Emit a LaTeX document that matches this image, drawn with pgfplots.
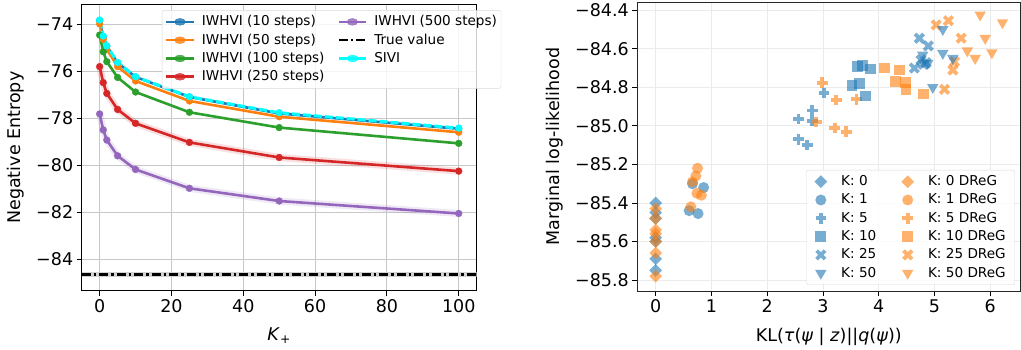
\documentclass[border=0pt]{standalone}
\usepackage{pgfplots}
\pgfplotsset{compat=1.18}
\usepackage{fontspec}
\setmainfont{DejaVu Sans}
\definecolor{tblue}{HTML}{1F77B4}
\definecolor{torange}{HTML}{FF7F0E}
\definecolor{tgreen}{HTML}{2CA02C}
\definecolor{tred}{HTML}{D62728}
\definecolor{tpurple}{HTML}{9467BD}
\definecolor{tcyan}{HTML}{00FFFF}
\definecolor{gridl}{HTML}{C8C8C8}
\definecolor{gridr}{HTML}{EBEBEB}

\pgfplotstableread{
x  b10    o50    g100   r250   p500   sivi
0  -73.85 -74.00 -74.47 -75.81 -77.82 -73.83
1  -74.55 -74.65 -75.18 -76.49 -78.50 -74.51
2  -74.95 -75.08 -75.60 -76.95 -78.93 -74.93
5  -75.65 -75.81 -76.27 -77.63 -79.60 -75.63
10 -76.25 -76.42 -76.89 -78.22 -80.18 -76.24
25 -77.10 -77.27 -77.75 -79.03 -80.98 -77.09
50 -77.80 -77.94 -78.40 -79.67 -81.52 -77.77
100 -78.45 -78.60 -79.07 -80.25 -82.05 -78.42
}\entropy

\tikzset{
  lline/.style={line width=2.6pt, mark=*, mark size=3.4pt, mark options={solid, line width=0.4pt}},
  bmk/.style={only marks, mark options={fill=tblue, draw opacity=0, fill opacity=0.6}},
  omk/.style={only marks, mark options={fill=torange, draw opacity=0, fill opacity=0.6}},
  bln/.style={only marks, mark options={draw=tblue, draw opacity=0.6, line width=3.8pt}},
  oln/.style={only marks, mark options={draw=torange, draw opacity=0.6, line width=3.8pt}},
  dia/.style={mark=square*, mark size=4.5pt, every mark/.append style={rotate=45}},
  tri/.style={mark=triangle*, mark size=6.6pt, every mark/.append style={rotate=180}},
}

\begin{document}
\begin{tikzpicture}[x=1pt,y=1pt]
\path[use as bounding box] (0,0) rectangle (1021,349);

% ---------------- Left panel ----------------
\begin{axis}[
  at={(81.7pt,58.3pt)}, anchor=south west, scale only axis,
  width=395pt, height=286pt,
  xmin=-5, xmax=105, ymin=-85.33, ymax=-73.18,
  xtick={0,20,40,60,80,100}, xticklabels={0,20,40,60,80,100},
  ytick={-84,-82,-80,-78,-76,-74},
  yticklabels={−84,−82,−80,−78,−76,−74},
  grid=major, major grid style={gridl, line width=0.9pt},
  tick align=outside, tick pos=left, major tick length=5pt,
  every tick/.style={black, line width=0.9pt},
  axis line style={black, line width=0.9pt},
  ticklabel style={font=\fontsize{17.5}{20}\selectfont},
  label style={font=\fontsize{17.5}{20}\selectfont},
  xlabel={\textit{K}\textsubscript{+}},
  ylabel={Negative Entropy},
  xlabel style={at={(axis description cs:0.5,-0.158)}, anchor=center},
  ylabel style={at={(axis description cs:-0.168,0.5)}, anchor=center},
  legend columns=2,
  legend cell align=left,
  legend style={at={(0.203,0.981)}, anchor=north west,
    font=\fontsize{13.6}{16}\selectfont, draw=gray!30, rounded corners=2pt,
    fill=white, fill opacity=0.8, text opacity=1, inner xsep=3pt, inner ysep=2.4pt,
    row sep=0pt,
    nodes={inner sep=1pt, text height=12pt, text depth=4.3pt},
    /tikz/every odd column/.append style={column sep=6pt},
    /tikz/every even column/.append style={column sep=12pt}},
  legend image post style={xscale=1.59},
  clip=true,
]
% true value band and line
\addplot[gray!35, line width=5pt, forget plot] coordinates {(-5,-84.65) (105,-84.65)};
% bands for red and purple
\addplot[tred, opacity=0.15, line width=7pt, forget plot] table[x=x,y=r250]{\entropy};
\addplot[tpurple, opacity=0.15, line width=7pt, forget plot] table[x=x,y=p500]{\entropy};

\addplot[tblue, lline, forget plot] table[x=x,y=b10]{\entropy};
\addplot[torange, lline, forget plot] table[x=x,y=o50]{\entropy};
\addplot[tgreen, lline, forget plot] table[x=x,y=g100]{\entropy};
\addplot[tred, lline, forget plot] table[x=x,y=r250]{\entropy};
\addplot[tpurple, lline, forget plot] table[x=x,y=p500]{\entropy};
\addplot[black, line width=2.6pt, dash pattern=on 9pt off 3pt on 2.5pt off 3pt, forget plot] coordinates {(-5,-84.65) (105,-84.65)};
\addplot[tcyan, line width=3pt, dash pattern=on 8pt off 3pt, forget plot] table[x=x,y=sivi]{\entropy};
\addplot[tcyan, only marks, mark=*, mark size=3.4pt, mark options={line width=0.4pt}, forget plot] table[x=x,y=sivi]{\entropy};

\addlegendimage{tblue, lline}
\addlegendentry{IWHVI (10 steps)}
\addlegendimage{tpurple, lline}
\addlegendentry{IWHVI (500 steps)}
\addlegendimage{torange, lline}
\addlegendentry{IWHVI (50 steps)}
\addlegendimage{black, line width=2.6pt, dash pattern=on 9pt off 3pt on 2.5pt off 3pt}
\addlegendentry{True value}
\addlegendimage{tgreen, lline}
\addlegendentry{IWHVI (100 steps)}
\addlegendimage{tcyan, lline}
\addlegendentry{SIVI}
\addlegendimage{tred, lline}
\addlegendentry{IWHVI (250 steps)}
\end{axis}

% ---------------- Right panel ----------------
\begin{axis}[
  at={(637.3pt,58pt)}, anchor=south west, scale only axis,
  width=383pt, height=289pt,
  xmin=-0.33, xmax=6.54, ymin=-85.857, ymax=-84.357,
  xtick={0,1,2,3,4,5,6}, xticklabels={0,1,2,3,4,5,6},
  ytick={-85.8,-85.6,-85.4,-85.2,-85.0,-84.8,-84.6,-84.4},
  yticklabels={−85.8,−85.6,−85.4,−85.2,−85.0,−84.8,−84.6,−84.4},
  grid=major, major grid style={gridr, line width=0.9pt},
  tick align=outside, tick pos=left, major tick length=5pt,
  every tick/.style={black, line width=0.9pt},
  axis line style={black!85, line width=0.9pt},
  ticklabel style={font=\fontsize{17.5}{20}\selectfont},
  label style={font=\fontsize{17.5}{20}\selectfont},
  xlabel={KL(\textit{τ}(\textit{ψ} | \textit{z})||\textit{q}(\textit{ψ}))},
  ylabel={Marginal log-likelihood},
  xlabel style={at={(axis description cs:0.5,-0.159)}, anchor=center},
  ylabel style={at={(axis description cs:-0.217,0.5)}, anchor=center},
  legend columns=2,
  legend cell align=left,
  legend style={at={(0.986,0.021)}, anchor=south east,
    font=\fontsize{13.6}{16}\selectfont, draw=gray!30, rounded corners=2pt,
    fill=white, fill opacity=0.8, text opacity=1, inner xsep=8pt, inner ysep=2.4pt,
    row sep=0pt,
    nodes={inner sep=1pt, text height=12pt, text depth=4.3pt},
    /tikz/every odd column/.append style={column sep=13pt},
    /tikz/every even column/.append style={column sep=24pt}},
  clip=false,
]
% K: 0
\addplot[bmk, dia, forget plot] coordinates {
 (0,-85.40) (0,-85.45) (0,-85.48) (0,-85.58) (0,-85.60) (0,-85.69) (0,-85.75)};
\addplot[omk, dia, forget plot] coordinates {
 (0,-85.43) (0,-85.48) (0,-85.54) (0,-85.56) (0,-85.60) (0,-85.66) (0,-85.78)};
% K: 1
\addplot[bmk, mark=*, mark size=5.5pt, forget plot] coordinates {
 (0.60,-85.44) (0.76,-85.455) (0.86,-85.32) (0.66,-85.30)};
\addplot[omk, mark=*, mark size=5.5pt, forget plot] coordinates {
 (0.75,-85.22) (0.72,-85.26) (0.66,-85.29) (0.74,-85.35) (0.82,-85.36) (0.63,-85.42)};
% K: 5
\addplot[bln, mark=+, mark size=5.3pt, forget plot] coordinates {
 (2.56,-84.964) (2.81,-84.92) (2.81,-84.975) (3.02,-84.83) (2.56,-85.07) (2.72,-85.10)};
\addplot[oln, mark=+, mark size=5.3pt, forget plot] coordinates {
 (2.99,-84.776) (3.24,-84.866) (3.60,-84.862) (2.88,-84.98) (3.21,-85.01) (3.42,-85.03)};
% K: 10
\addplot[bmk, mark=square*, mark size=5.4pt, forget plot] coordinates {
 (3.62,-84.69) (3.71,-84.687) (3.86,-84.705) (3.52,-84.79) (3.65,-84.78) (3.76,-84.845)};
\addplot[omk, mark=square*, mark size=5.4pt, forget plot] coordinates {
 (4.10,-84.70) (4.38,-84.71) (4.30,-84.77) (4.48,-84.775) (4.49,-84.81) (4.81,-84.835)};
% K: 25
\addplot[bln, mark=x, mark size=6pt, forget plot] coordinates {
 (4.73,-84.545) (4.89,-84.585) (4.76,-84.658) (4.64,-84.70) (4.85,-84.672) (4.80,-84.68)};
\addplot[oln, mark=x, mark size=6pt, forget plot] coordinates {
 (5.03,-84.476) (5.25,-84.454) (5.48,-84.545) (5.36,-84.667) (5.33,-84.71) (5.18,-84.81)};
% K: 50
\addplot[bmk, tri, forget plot] coordinates {
 (4.79,-84.632) (4.88,-84.675) (5.15,-84.499) (5.15,-84.623) (5.33,-84.649) (4.97,-84.80)};
\addplot[omk, tri, forget plot] coordinates {
 (5.82,-84.424) (6.22,-84.464) (5.91,-84.545) (5.59,-84.61) (5.73,-84.649) (6.03,-84.62)};

\addlegendimage{bmk, dia}
\addlegendentry{K: 0}
\addlegendimage{omk, dia}
\addlegendentry{K: 0 DReG}
\addlegendimage{bmk, mark=*, mark size=5.5pt}
\addlegendentry{K: 1}
\addlegendimage{omk, mark=*, mark size=5.5pt}
\addlegendentry{K: 1 DReG}
\addlegendimage{bln, mark=+, mark size=5.3pt}
\addlegendentry{K: 5}
\addlegendimage{oln, mark=+, mark size=5.3pt}
\addlegendentry{K: 5 DReG}
\addlegendimage{bmk, mark=square*, mark size=5.4pt}
\addlegendentry{K: 10}
\addlegendimage{omk, mark=square*, mark size=5.4pt}
\addlegendentry{K: 10 DReG}
\addlegendimage{bln, mark=x, mark size=6pt}
\addlegendentry{K: 25}
\addlegendimage{oln, mark=x, mark size=6pt}
\addlegendentry{K: 25 DReG}
\addlegendimage{bmk, tri}
\addlegendentry{K: 50}
\addlegendimage{omk, tri}
\addlegendentry{K: 50 DReG}
\end{axis}
\end{tikzpicture}
\end{document}
